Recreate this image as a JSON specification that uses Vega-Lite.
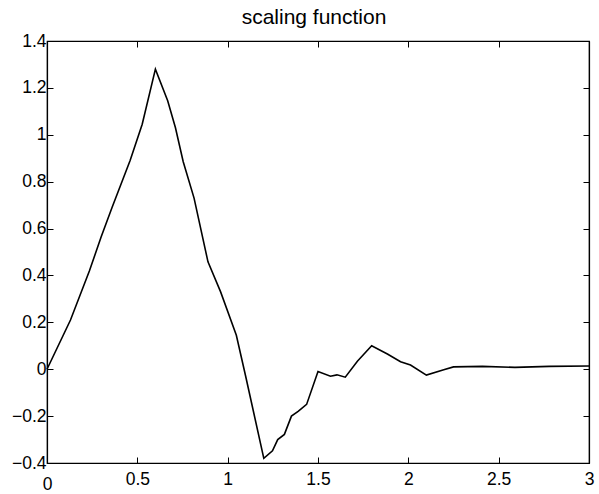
{
  "$schema": "https://vega.github.io/schema/vega-lite/v6.json",
  "width": 542,
  "height": 422,
  "autosize": {"type": "none"},
  "padding": {"left": 47, "top": 41, "right": 10, "bottom": 31},
  "background": "white",
  "title": {"text": "scaling function", "fontSize": 21, "font": "Liberation Sans", "fontWeight": "normal", "color": "black", "offset": 4, "anchor": "middle", "dx": -4},
  "config": {
    "view": {"stroke": "black", "strokeWidth": 1.2},
    "axis": {"grid": false, "domainColor": "black", "domainWidth": 1.2, "tickColor": "black", "tickSize": -6, "labelColor": "black", "labelFont": "Liberation Sans", "labelFontSize": 17.5, "labelOverlap": false, "labelFlush": false, "labelBound": false, "title": null}
  },
  "data": {"values": [
    {"x": 0, "y": 0},
    {"x": 0.13, "y": 0.21},
    {"x": 0.235, "y": 0.42},
    {"x": 0.3, "y": 0.565},
    {"x": 0.36, "y": 0.69},
    {"x": 0.46, "y": 0.89},
    {"x": 0.527, "y": 1.045},
    {"x": 0.6, "y": 1.28},
    {"x": 0.668, "y": 1.145},
    {"x": 0.711, "y": 1.03},
    {"x": 0.754, "y": 0.885},
    {"x": 0.814, "y": 0.73},
    {"x": 0.891, "y": 0.458},
    {"x": 0.961, "y": 0.33},
    {"x": 1.048, "y": 0.145},
    {"x": 1.099, "y": -0.028},
    {"x": 1.2, "y": -0.38},
    {"x": 1.248, "y": -0.348},
    {"x": 1.277, "y": -0.3},
    {"x": 1.314, "y": -0.278},
    {"x": 1.353, "y": -0.2},
    {"x": 1.39, "y": -0.18},
    {"x": 1.437, "y": -0.15},
    {"x": 1.5, "y": -0.01},
    {"x": 1.569, "y": -0.03},
    {"x": 1.605, "y": -0.024},
    {"x": 1.651, "y": -0.034},
    {"x": 1.718, "y": 0.034},
    {"x": 1.797, "y": 0.1},
    {"x": 1.884, "y": 0.065},
    {"x": 1.957, "y": 0.032},
    {"x": 2.012, "y": 0.018},
    {"x": 2.1, "y": -0.025},
    {"x": 2.196, "y": -0.002},
    {"x": 2.25, "y": 0.01},
    {"x": 2.41, "y": 0.012},
    {"x": 2.59, "y": 0.008},
    {"x": 2.78, "y": 0.012},
    {"x": 3.0, "y": 0.014}
  ]},
  "layer": [
    {
      "mark": {"type": "line", "color": "black", "strokeWidth": 1.6},
      "encoding": {
        "x": {"field": "x", "type": "quantitative", "scale": {"domain": [0, 3], "nice": false, "zero": false},
              "axis": {"orient": "bottom", "values": [0, 0.5, 1, 1.5, 2, 2.5, 3], "format": "~g",
                       "labelPadding": {"condition": {"test": "datum.value == 0", "value": 18}, "value": 13}}},
        "y": {"field": "y", "type": "quantitative", "scale": {"domain": [-0.4, 1.4], "nice": false, "zero": false},
              "axis": {"orient": "left", "values": [-0.4, -0.2, 0, 0.2, 0.4, 0.6, 0.8, 1, 1.2, 1.4], "format": "~g", "labelPadding": 7}}
      }
    },
    {
      "mark": {"type": "line", "opacity": 0},
      "encoding": {
        "x": {"field": "x", "type": "quantitative", "axis": {"orient": "top", "values": [0, 0.5, 1, 1.5, 2, 2.5, 3], "labels": false}},
        "y": {"field": "y", "type": "quantitative", "axis": {"orient": "right", "values": [-0.4, -0.2, 0, 0.2, 0.4, 0.6, 0.8, 1, 1.2, 1.4], "labels": false}}
      }
    }
  ],
  "resolve": {"axis": {"x": "independent", "y": "independent"}}
}
